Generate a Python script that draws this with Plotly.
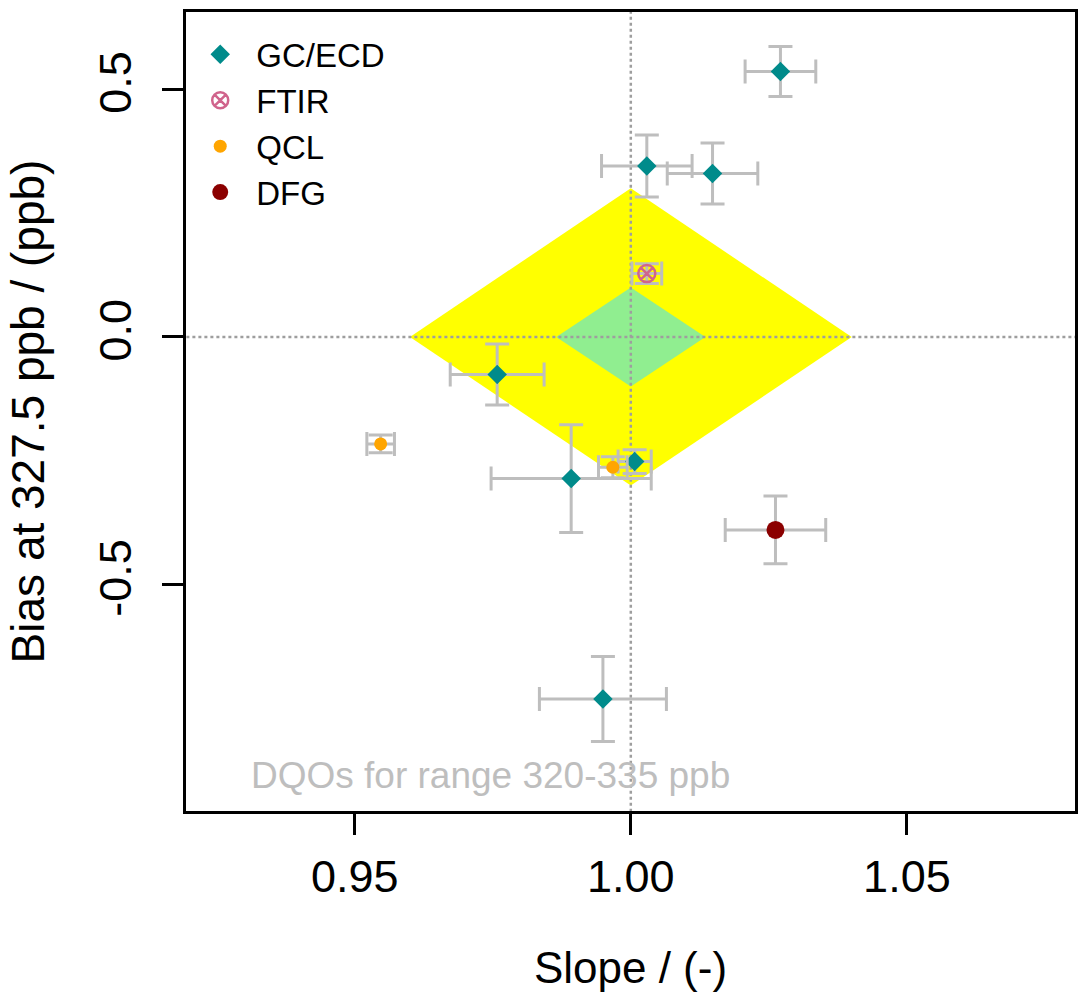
import plotly.graph_objects as go

# ---- data ----
gc_x = [1.0271, 1.0029, 1.0148, 0.9758, 0.9892, 1.0007, 0.99495]
gc_y = [0.536, 0.345, 0.330, -0.0758, -0.286, -0.2515, -0.731]
gc_xerr = [0.0064, 0.0082, 0.0082, 0.0085, 0.0145, 0.0030, 0.0115]
gc_yerr = [0.0505, 0.0625, 0.0615, 0.0615, 0.109, 0.024, 0.0857]

ftir_x = [1.0029]
ftir_y = [0.128]
ftir_xerr = [0.0027]
ftir_yerr = [0.020]

qcl_x = [0.9547, 0.99675]
qcl_y = [-0.216, -0.263]
qcl_xerr = [0.0025, 0.0026]
qcl_yerr = [0.018, 0.021]

dfg_x = [1.0262]
dfg_y = [-0.3895]
dfg_xerr = [0.0091]
dfg_yerr = [0.0685]

# DQO regions: (slope half-width, bias half-width) around slope 1, bias 0
dqo_outer = (0.04, 0.30)
dqo_inner = (0.0135, 0.10)

xlim = [0.91945, 1.08044]
ylim = [-0.957, 0.656]
xticks = [0.95, 1.00, 1.05]
xtick_text = ["0.95", "1.00", "1.05"]
yticks = [-0.5, 0.0, 0.5]
ytick_text = ["-0.5", "0.0", "0.5"]

FONT = "Liberation Sans, Arial, sans-serif"
ERR = "#BEBEBE"

fig = go.Figure()

def diamond(hw, hh):
    xs = [1 - hw, 1, 1 + hw, 1, 1 - hw]
    ys = [0, hh, 0, -hh, 0]
    return xs, ys

for (hw, hh), col in [(dqo_outer, "#FFFF00"), (dqo_inner, "#90EE90")]:
    xs, ys = diamond(hw, hh)
    fig.add_trace(go.Scatter(x=xs, y=ys, fill="toself", fillcolor=col, mode="none",
                             showlegend=False, hoverinfo="skip"))

# dotted reference lines
fig.add_trace(go.Scatter(x=[1, 1], y=[-2, 2], mode="lines",
                         line=dict(color="#9E9E9E", width=2.5, dash="dot"),
                         showlegend=False, hoverinfo="skip"))
fig.add_trace(go.Scatter(x=[0.8, 1.2], y=[0, 0], mode="lines",
                         line=dict(color="#9E9E9E", width=2.5, dash="dot"),
                         showlegend=False, hoverinfo="skip"))

def eb(arr):
    return dict(type="data", array=arr, visible=True, color=ERR, thickness=3, width=12)

fig.add_trace(go.Scatter(x=gc_x, y=gc_y, mode="markers", name="GC/ECD",
                         error_x=eb(gc_xerr), error_y=eb(gc_yerr),
                         marker=dict(symbol="diamond", size=15, color="#008B8B")))
fig.add_trace(go.Scatter(x=ftir_x, y=ftir_y, mode="markers", name="FTIR",
                         error_x=eb(ftir_xerr), error_y=eb(ftir_yerr),
                         marker=dict(symbol="circle-x-open", size=17, color="#D0648C",
                                     line=dict(width=2.5, color="#D0648C"))))
fig.add_trace(go.Scatter(x=qcl_x, y=qcl_y, mode="markers", name="QCL",
                         error_x=eb(qcl_xerr), error_y=eb(qcl_yerr),
                         marker=dict(symbol="circle", size=13, color="#FFA500")))
fig.add_trace(go.Scatter(x=dfg_x, y=dfg_y, mode="markers", name="DFG",
                         error_x=eb(dfg_xerr), error_y=eb(dfg_yerr),
                         marker=dict(symbol="circle", size=18, color="#8B0000")))

fig.add_annotation(x=0.9746, y=-0.885, xref="x", yref="y", text="DQOs for range 320-335 ppb",
                   showarrow=False, font=dict(family=FONT, size=37, color="#BEBEBE"),
                   xanchor="center", yanchor="middle")

fig.update_layout(
    width=1085, height=1001,
    margin=dict(l=185.5, r=6.5, t=11.5, b=190),
    paper_bgcolor="white", plot_bgcolor="white",
    font=dict(family=FONT, color="black"),
    showlegend=True,
    legend=dict(x=-0.002, y=0.982, xanchor="left", yanchor="top", bgcolor="rgba(0,0,0,0)",
                font=dict(family=FONT, size=33, color="black"), itemsizing="trace",
                itemwidth=62, tracegroupgap=0),
)
fig.update_xaxes(range=xlim, tickvals=xticks, ticktext=xtick_text, showgrid=False, zeroline=False,
                 showline=True, linecolor="black", linewidth=3, mirror=True,
                 ticks="outside", ticklen=21, tickwidth=2.5, tickcolor="black",
                 ticklabelstandoff=3,
                 tickfont=dict(family=FONT, size=45, color="black"),
                 title=dict(text="Slope / (-)", font=dict(family=FONT, size=44, color="black"), standoff=52))
fig.update_yaxes(range=ylim, tickvals=yticks, ticktext=ytick_text, showgrid=False, zeroline=False,
                 showline=True, linecolor="black", linewidth=3, mirror=True,
                 ticks="outside", ticklen=21, tickwidth=2.5, tickcolor="black", tickangle=-90,
                 ticklabelstandoff=13,
                 tickfont=dict(family=FONT, size=45, color="black"),
                 title=dict(text="Bias at 327.5 ppb / (ppb)", font=dict(family=FONT, size=46, color="black"), standoff=31))

fig.write_html("out.html")
